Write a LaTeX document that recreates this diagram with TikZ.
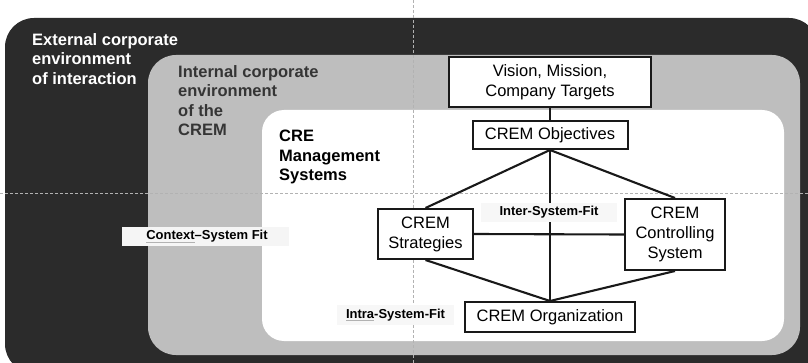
\documentclass[tikz,border=0pt]{standalone}
\usepackage{fontspec}
\setmainfont{Liberation Sans}
\definecolor{darkbg}{HTML}{2B2B2B}
\definecolor{greybg}{HTML}{BEBEBE}
\definecolor{inttext}{HTML}{353535}
\definecolor{lblbg}{HTML}{F7F7F7}
\newcommand\squig[1]{\setbox0\hbox{#1}\rlap{\color{gray!60}\rule[-2.6pt]{\wd0}{0.7pt}}\box0}
\tikzset{
  crembox/.style={draw=black!90, line width=2pt, fill=white, align=center, inner sep=0pt,
    font=\fontsize{16.5}{20}\selectfont},
  conn/.style={draw=black!90, line width=2.1pt},
  fitlabel/.style={fill=lblbg, inner sep=0pt, font=\fontsize{13}{15}\selectfont\bfseries},
  areatitle/.style={anchor=north west, inner sep=0pt, align=left,
    font=\fontsize{16.5}{19.5}\selectfont\bfseries},
  guide/.style={draw=gray!60, line width=0.6pt, dash pattern=on 3pt off 2pt}
}
\begin{document}
\begin{tikzpicture}[x=1pt,y=-1pt]
\useasboundingbox (0,0) rectangle (808,363);
\clip (0,0) rectangle (808,363);
% nested environments
\fill[darkbg, rounded corners=29pt] (5,18) rectangle (818,373);
\fill[greybg, rounded corners=28pt] (148,55) rectangle (800,355);
\fill[white, rounded corners=22pt] (262,110) rectangle (784,341);
% guide lines
\draw[guide] (413,0) -- (413,363);
\draw[guide] (0,193) -- (808,193);
% area titles
\node[areatitle, text=white] (ext) at (32,33) {External corporate\\environment\\of interaction};
\node[areatitle, text=inttext] (int) at (178,65) {Internal corporate\\environment\\of the\\CREM};
\node[areatitle, text=black] (cre) at (279,130) {CRE\\Management\\Systems};
% boxes
\node[crembox, minimum width=202pt, minimum height=50pt] (vis) at (550,82) {Vision, Mission,\\Company Targets};
\node[crembox, minimum width=155pt, minimum height=28pt] (obj) at (550,135) {CREM Objectives};
\node[crembox, minimum width=95pt, minimum height=50pt] (str) at (425.5,234) {CREM\\Strategies};
\node[crembox, minimum width=100pt, minimum height=71pt] (ctl) at (675,234.5) {CREM\\Controlling\\System};
\node[crembox, minimum width=170pt, minimum height=30pt] (org) at (550,317) {CREM Organization};
% connectors
\draw[conn] (vis.south) -- (obj.north);
\draw[conn] (obj.south) -- (str.north);
\draw[conn] (obj.south) -- (ctl.north);
\draw[conn] (obj.south) -- (org.north);
\draw[conn] (str.east) -- (ctl.west);
\draw[conn] (str.south) -- (org.north);
\draw[conn] (ctl.south) -- (org.north);
% fit labels
\node[fitlabel, minimum width=136pt, minimum height=19pt] (inter) at (549,212.5) {Inter-System-Fit};
\node[fitlabel, fill=white!96!black, minimum width=167pt, minimum height=19pt] (ctx) at (205.5,236.5) {\hspace*{3pt}\squig{Context}–System Fit};
\node[fitlabel, minimum width=117pt, minimum height=20pt] (intra) at (395.5,315) {\squig{Intra}-System-Fit};
\end{tikzpicture}
\end{document}
